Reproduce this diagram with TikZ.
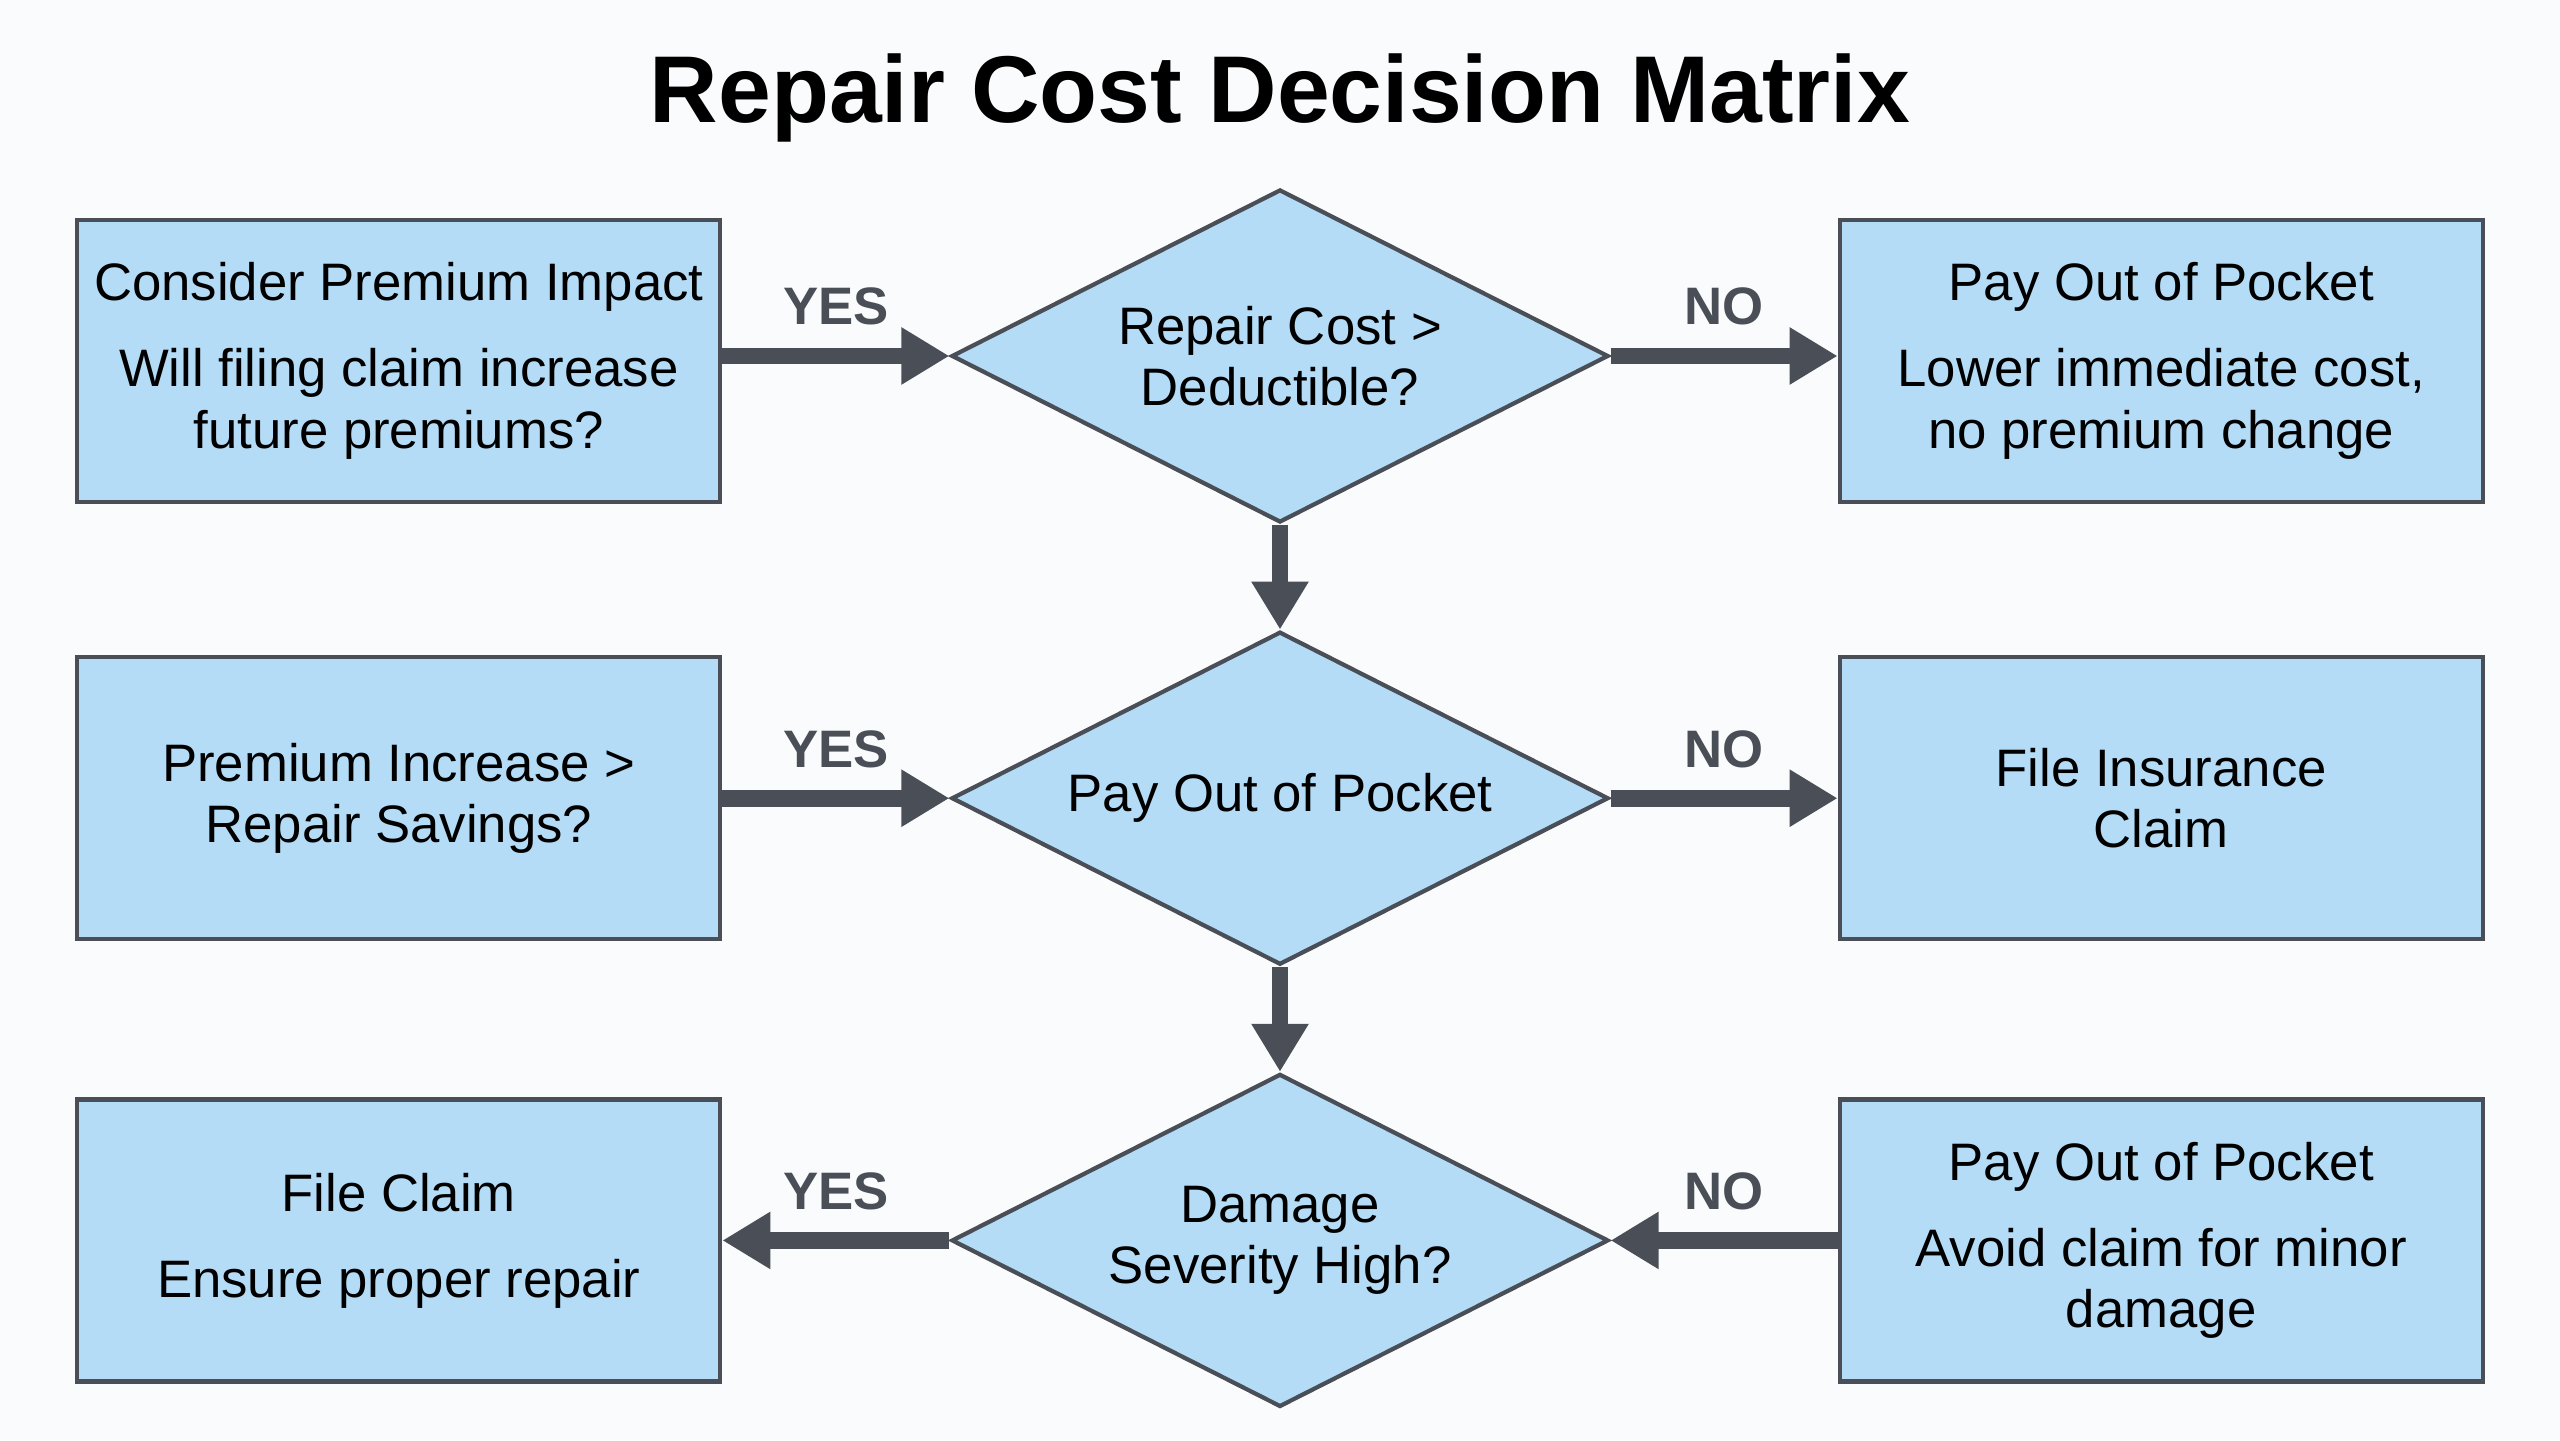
\documentclass[tikz,border=0pt]{standalone}
\usepackage{fontspec}
\setmainfont{Liberation Sans}
\usetikzlibrary{arrows.meta,positioning,shapes.geometric}
\definecolor{RBlue}{HTML}{B4DCF6}
\definecolor{RSlate}{HTML}{4A4F57}
\definecolor{RPaper}{HTML}{F9FBFC}

\begin{document}
\begin{tikzpicture}[x=1cm,y=1cm,
  box/.style={draw=RSlate,line width=1.2pt,fill=RBlue,minimum width=6.43cm,minimum height=2.82cm,
    align=center,font=\fontsize{15}{17.5}\selectfont},
  choice/.style={diamond,aspect=2,draw=RSlate,line width=1.2pt,fill=RBlue,minimum width=6.57cm,
    minimum height=3.33cm,inner sep=0pt,align=center,font=\fontsize{15}{17.5}\selectfont},
  flow/.style={RSlate,line width=4.8pt,-{Triangle[length=4.8mm,width=5.4mm]}},
  tag/.style={font=\bfseries\fontsize{15}{18}\selectfont,above=3pt}]
  \fill[RPaper] (0,0) rectangle (25.6,14.4);
  \useasboundingbox (0,0) rectangle (25.6,14.4);
  \node[font=\bfseries\fontsize{27}{32}\selectfont] (title) at (12.8,13.42) {Repair Cost Decision Matrix};

  % decisions down the middle
  \node[choice] (cost) at (12.8,10.84) {Repair Cost >\\Deductible?};
  \node[choice,below=1.05cm of cost] (paypocket) {Pay Out of Pocket};
  \node[choice,below=1.05cm of paypocket] (severity) {Damage\\Severity High?};

  % outcomes on both sides
  \node[box,left=2.27cm of cost,yshift=-0.05cm] (consider) {Consider Premium Impact\\[7pt]Will filing claim increase\\future premiums?};
  \node[box,right=2.27cm of cost,yshift=-0.05cm] (lower) {Pay Out of Pocket\\[7pt]Lower immediate cost,\\no premium change};
  \node[box,left=2.27cm of paypocket] (increase) {Premium Increase >\\Repair Savings?};
  \node[box,right=2.27cm of paypocket] (insure) {File Insurance\\Claim};
  \node[box,left=2.27cm of severity] (fileclaim) {File Claim\\[7pt]Ensure proper repair};
  \node[box,right=2.27cm of severity] (minor) {Pay Out of Pocket\\[7pt]Avoid claim for minor\\damage};

  \draw[flow] (consider.east |- cost) -- node[tag] {YES} (cost);
  \draw[flow] (cost) -- node[tag] {NO} (lower.west |- cost);
  \draw[flow] (increase) -- node[tag] {YES} (paypocket);
  \draw[flow] (paypocket) -- node[tag] {NO} (insure);
  \draw[flow] (severity) -- node[tag] {YES} (fileclaim);
  \draw[flow] (minor) -- node[tag] {NO} (severity);
  \draw[flow] (cost) -- (paypocket);
  \draw[flow] (paypocket) -- (severity);
\end{tikzpicture}
\end{document}
